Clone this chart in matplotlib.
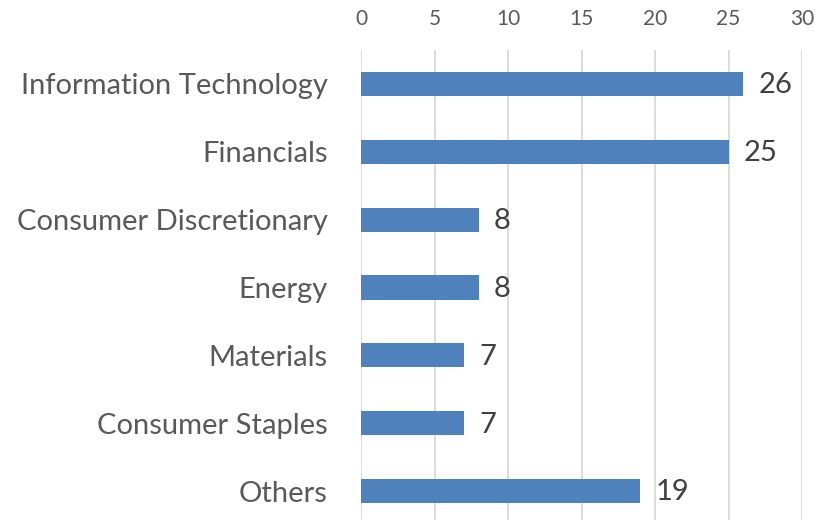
import matplotlib
matplotlib.use("Agg")
import matplotlib.pyplot as plt
import numpy as np

SECTORS = [
    "Information Technology",
    "Financials",
    "Consumer Discretionary",
    "Energy",
    "Materials",
    "Consumer Staples",
    "Others",
]
WEIGHTS = [26, 25, 8, 8, 7, 7, 19]
X_TICKS = [0, 5, 10, 15, 20, 25, 30]

BAR_COLOR = "#4f81bd"
GRID_COLOR = "#d9d9d9"
LABEL_COLOR = "#595959"
VALUE_COLOR = "#404040"

plt.rcParams["font.family"] = ["Lato", "DejaVu Sans"]

fig = plt.figure(figsize=(8.17, 5.2), dpi=100)
W, H = 817, 520
ax = fig.add_axes([361 / W, -5 / H, 441 / W, 475 / H])

y = np.arange(len(SECTORS))
ax.barh(y, WEIGHTS, height=0.355, color=BAR_COLOR, zorder=3)

for yi, v in zip(y, WEIGHTS):
    ax.annotate(f"{v:d}", xy=(v, yi), xytext=(11, -1), textcoords="offset points",
                ha="left", va="center", fontsize=21, color=VALUE_COLOR)

ax.set_xlim(0, 30)
ax.set_ylim(len(SECTORS) - 0.5, -0.5)
ax.set_xticks(X_TICKS)
ax.xaxis.tick_top()
ax.tick_params(axis="x", length=0, pad=15, labelsize=15, labelcolor=LABEL_COLOR)
ax.set_yticks(y)
ax.set_yticklabels(SECTORS)
ax.tick_params(axis="y", length=0, pad=24, labelsize=21, labelcolor=LABEL_COLOR)

ax.grid(axis="x", color=GRID_COLOR, linewidth=1.3, zorder=0)
for s in ax.spines.values():
    s.set_visible(False)

fig.savefig("out.png", dpi=100)
